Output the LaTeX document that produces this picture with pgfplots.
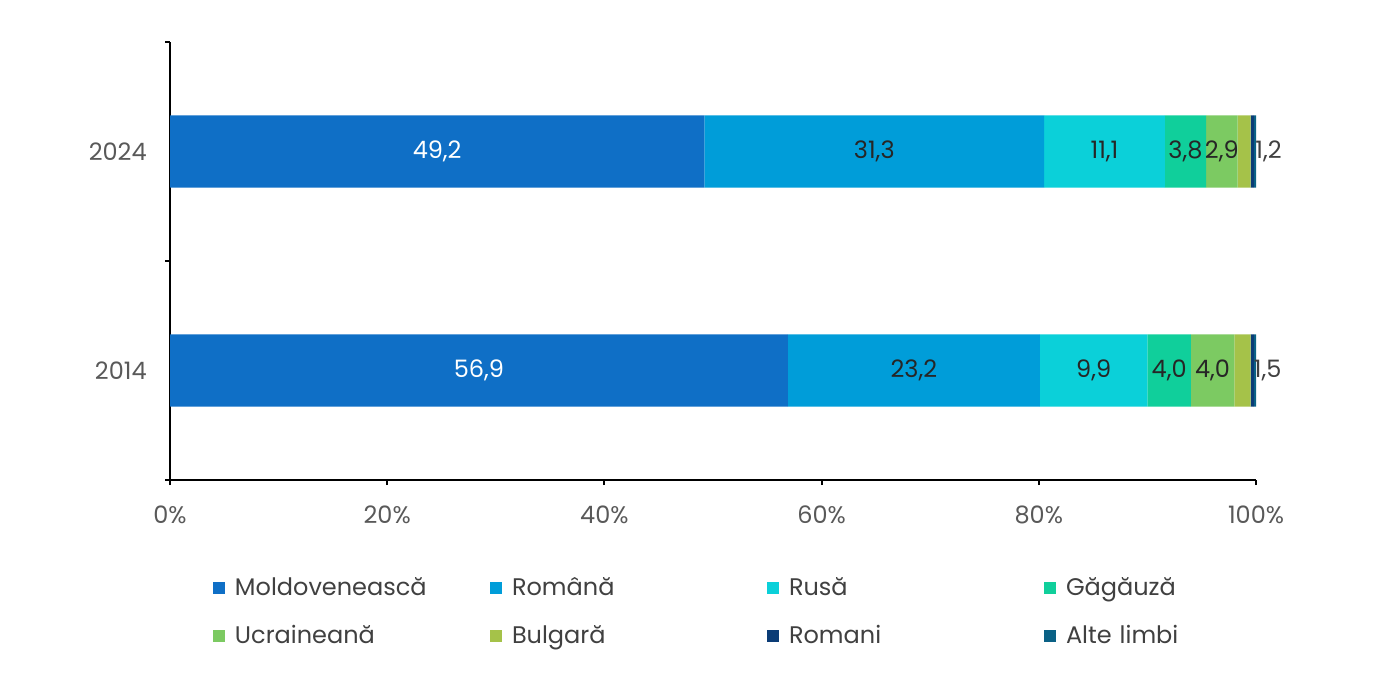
\documentclass[border=0pt]{standalone}
\usepackage{fontspec}
\setmainfont{Poppins}
\usepackage{pgfplots}
\usepackage{pgfplotstable}
\pgfplotsset{compat=1.18}
\definecolor{cMol}{HTML}{0F6FC6}
\definecolor{cRom}{HTML}{009DD9}
\definecolor{cRus}{HTML}{0BD0D9}
\definecolor{cGag}{HTML}{10CF9B}
\definecolor{cUcr}{HTML}{7CCA62}
\definecolor{cBul}{HTML}{A5C249}
\definecolor{cRmi}{HTML}{0B3C76}
\definecolor{cAlt}{HTML}{0A6185}
\definecolor{tgray}{HTML}{595959}
\definecolor{lgray}{HTML}{404040}
\definecolor{dlab}{HTML}{262626}

\pgfplotstableread{
y mol rom rus gag ucr bul rmi alt
0 56.9 23.2 9.9 4.0 4.0 1.5 0.3 0.2
1 49.2 31.3 11.1 3.8 2.9 1.2 0.3 0.2
}\data

\pgfplotsset{
  seglab/.style={
    point meta=explicit symbolic,
    nodes near coords={\pgfmathprintnumber[fixed,fixed zerofill,precision=1,use comma]{\pgfplotspointmeta}},
    every node near coord/.append style={anchor=center, text=#1, font=\fontsize{12}{14}\selectfont}},
}

\begin{document}
\fontsize{12}{14}\selectfont
\begin{tikzpicture}
\begin{axis}[
  /pgf/number format/assume math mode=true,
  scale only axis, width=543pt, height=219pt,
  xbar stacked, bar width=0.33,
  xmin=0, xmax=100, ymin=-0.5, ymax=1.5,
  axis lines*=left,
  axis line style={line width=1pt, black},
  xtick={0,20,40,60,80,100},
  xticklabel={\pgfmathprintnumber{\tick}\%},
  ytick={0,1}, yticklabels={2014,2024},
  minor ytick={-0.5,0.5,1.5},
  tick align=outside,
  major tick length=2.5pt, minor tick length=2.5pt,
  major x tick style={line width=1pt, black},
  major y tick style={draw=none},
  minor y tick style={line width=1pt, black},
  tick label style={text=tgray, font=\fontsize{12}{14}\selectfont},
  xticklabel style={yshift=-6pt},
  yticklabel style={xshift=-5pt},
  legend image code/.code={\fill[#1] (0pt,-2.25pt) rectangle (6pt,3.75pt); \path (11pt,0pt);},
  legend columns=4,
  legend style={draw=none, fill=none, inner sep=0pt, outer sep=0pt,
    at={(0,0)}, anchor=north west, xshift=21.5pt, yshift=-48.5pt,
    row sep=12pt,
    nodes={inner sep=0pt, text height=9pt, text depth=3pt, text width=127.5pt, align=left, text=lgray, font=\fontsize{12}{14}\selectfont}},
  every axis plot/.append style={draw=none},
]
\addplot[fill=cMol, seglab=white] table[x=mol,y=y,meta=mol]{\data};
\addlegendentry{Moldovenească}
\addplot[fill=cRom, seglab=dlab] table[x=rom,y=y,meta=rom]{\data};
\addlegendentry{Română}
\addplot[fill=cRus, seglab=dlab] table[x=rus,y=y,meta=rus]{\data};
\addlegendentry{Rusă}
\addplot[fill=cGag, seglab=dlab] table[x=gag,y=y,meta=gag]{\data};
\addlegendentry{Găgăuză}
\addplot[fill=cUcr, seglab=dlab] table[x=ucr,y=y,meta=ucr]{\data};
\addlegendentry{Ucraineană}
\addplot[fill=cBul, point meta=explicit symbolic,
  nodes near coords={\pgfmathprintnumber[fixed,fixed zerofill,precision=1,use comma]{\pgfplotspointmeta}},
  every node near coord/.append style={anchor=west, inner xsep=0pt, xshift=5.5pt, text=lgray, font=\fontsize{12}{14}\selectfont}]
  table[x=bul,y=y,meta=bul]{\data};
\addlegendentry{Bulgară}
\addplot[fill=cRmi] table[x=rmi,y=y]{\data};
\addlegendentry{Romani}
\addplot[fill=cAlt] table[x=alt,y=y]{\data};
\addlegendentry{Alte limbi}
\end{axis}
\pgfresetboundingbox
\path[use as bounding box] ([xshift=-85pt,yshift=-97pt]current axis.south west) rectangle ([xshift=72pt,yshift=21pt]current axis.north east);
\end{tikzpicture}
\end{document}
